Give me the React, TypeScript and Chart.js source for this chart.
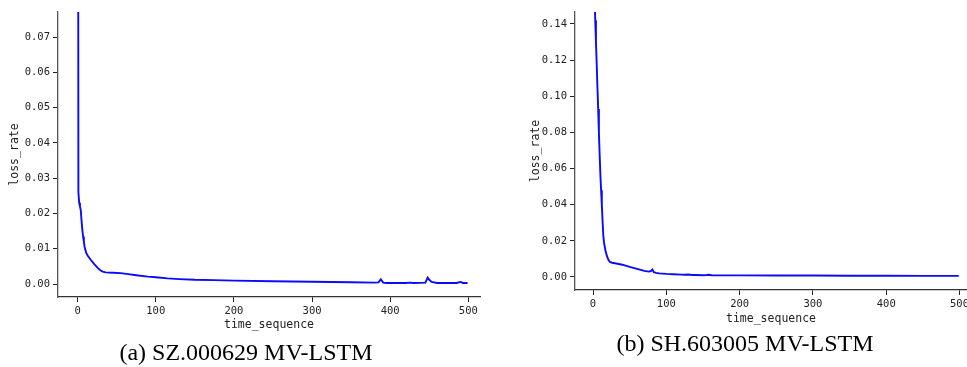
import React, { useEffect, useRef } from 'react';
import { Chart, registerables } from 'chart.js';

Chart.register(...registerables);

// ---- data ----
const stepsA = [0, 1, 2, 3, 4, 5, 6, 7, 8, 9, 11, 13, 17, 21, 26, 29, 32, 36, 45, 55, 65, 75, 90, 100, 115, 130, 150, 175, 200, 250, 300, 350, 380, 385, 388, 391, 395, 420, 425, 430, 445, 448, 450, 453, 460, 485, 490, 493, 499];
const lossA = [0.3, 0.026, 0.023, 0.022, 0.021, 0.018, 0.0155, 0.0135, 0.012, 0.0105, 0.0088, 0.008, 0.0068, 0.0057, 0.0045, 0.0039, 0.0035, 0.0033, 0.0032, 0.0031, 0.0028, 0.0025, 0.0021, 0.0019, 0.0016, 0.0014, 0.0012, 0.0011, 0.00095, 0.0008, 0.00065, 0.0005, 0.0004, 0.00045, 0.0013, 0.0004, 0.0003, 0.0003, 0.0004, 0.0003, 0.0004, 0.0018, 0.0012, 0.0006, 0.0003, 0.0003, 0.0006, 0.0003, 0.0003];

const stepsB = [0, 1, 2, 3, 4, 5, 6, 7, 8, 9, 10, 11, 12, 13, 14, 15, 17, 19, 21, 23, 26, 30, 40, 50, 60, 70, 76, 79, 81, 83, 86, 90, 100, 110, 120, 125, 130, 135, 140, 150, 155, 158, 162, 175, 200, 250, 300, 350, 400, 450, 499];
const lossB = [0.25, 0.2, 0.16, 0.142, 0.13, 0.118, 0.105, 0.093, 0.08, 0.068, 0.057, 0.048, 0.04, 0.031, 0.023, 0.019, 0.0145, 0.0115, 0.0095, 0.0083, 0.0079, 0.0076, 0.0068, 0.0056, 0.0045, 0.0034, 0.003, 0.0033, 0.0041, 0.0027, 0.0023, 0.002, 0.0017, 0.0015, 0.0013, 0.0012, 0.0014, 0.0011, 0.0011, 0.001, 0.0011, 0.0012, 0.001, 0.0009, 0.0009, 0.0008, 0.0008, 0.0007, 0.0007, 0.0006, 0.0006];

const xTicks = [0, 100, 200, 300, 400, 500];
const yTicksA = [0, 0.01, 0.02, 0.03, 0.04, 0.05, 0.06, 0.07];
const yTicksB = [0, 0.02, 0.04, 0.06, 0.08, 0.1, 0.12, 0.14];

const xLabel = 'time_sequence';
const yLabel = 'loss_rate';
const captionA = '(a) SZ.000629 MV-LSTM';
const captionB = '(b) SH.603005 MV-LSTM';

type Props = {
  steps: number[];
  loss: number[];
  yTicks: number[];
  xMin: number;
  xMax: number;
  yMin: number;
  yMax: number;
  width: number;
  height: number;
  axisW: number;
  axisH: number;
  padTop: number;
  padRight: number;
  yTitlePad: number;
  xTitlePad: number;
  left: number;
};

const mono = 'DejaVu Sans Mono';

function LossChart(p: Props) {
  const ref = useRef<HTMLCanvasElement | null>(null);
  useEffect(() => {
    if (!ref.current) return;
    const chart = new Chart(ref.current, {
      type: 'line',
      data: {
        datasets: [
          {
            data: p.steps.map((s, i) => ({ x: s, y: p.loss[i] })),
            borderColor: '#0a0aff',
            borderWidth: 1.9,
            pointRadius: 0,
            tension: 0,
            fill: false,
          },
        ],
      },
      options: {
        animation: false,
        responsive: false,
        devicePixelRatio: 1,
        layout: { padding: { top: p.padTop, right: p.padRight, left: 0, bottom: 0 } },
        plugins: { legend: { display: false }, tooltip: { enabled: false } },
        scales: {
          x: {
            type: 'linear',
            min: p.xMin,
            max: p.xMax,
            afterBuildTicks: (s: any) => {
              s.ticks = xTicks.map((v) => ({ value: v }));
            },
            afterFit: (s: any) => {
              s.height = p.axisH;
              s.paddingLeft = 0;
              s.paddingRight = 0;
            },
            grid: { drawOnChartArea: false, drawTicks: true, tickLength: 5, color: '#222', lineWidth: 1 },
            border: { display: true, color: '#333', width: 1.3 },
            ticks: {
              font: { family: mono, size: 10.5 },
              color: '#222',
              padding: 3,
              maxRotation: 0,
              autoSkip: false,
              callback: (v: any) => String(v),
            },
            title: {
              display: true,
              text: xLabel,
              font: { family: mono, size: 11.5 },
              color: '#222',
              padding: { top: 0, bottom: p.xTitlePad },
            },
          },
          y: {
            type: 'linear',
            min: p.yMin,
            max: p.yMax,
            afterBuildTicks: (s: any) => {
              s.ticks = p.yTicks.map((v) => ({ value: v }));
            },
            afterFit: (s: any) => {
              s.width = p.axisW;
              s.paddingTop = 0;
              s.paddingBottom = 0;
            },
            grid: { drawOnChartArea: false, drawTicks: true, tickLength: 5, color: '#222', lineWidth: 1 },
            border: { display: true, color: '#555', width: 1.3 },
            ticks: {
              font: { family: mono, size: 10.5 },
              color: '#222',
              padding: 3,
              autoSkip: false,
              callback: (v: any) => Number(v).toFixed(2),
            },
            title: {
              display: true,
              text: yLabel,
              font: { family: mono, size: 11.5 },
              color: '#222',
              padding: { top: p.yTitlePad, bottom: 0 },
            },
          },
        },
      },
    } as any);
    return () => chart.destroy();
  }, []);
  return (
    <canvas
      ref={ref}
      width={p.width}
      height={p.height}
      style={{ position: 'absolute', left: p.left, top: 0, width: p.width, height: p.height }}
    />
  );
}

function Caption({ text, cx, cy }: { text: string; cx: number; cy: number }) {
  return (
    <div
      style={{
        position: 'absolute',
        left: cx - 200,
        top: cy - 14,
        width: 400,
        height: 28,
        lineHeight: '28px',
        textAlign: 'center',
        fontFamily: '"Liberation Serif", "Times New Roman", serif',
        fontSize: 24,
        color: '#000',
        whiteSpace: 'nowrap',
      }}
    >
      {text}
    </div>
  );
}

export default function App() {
  return (
    <div style={{ position: 'fixed', left: 0, top: 0, width: 967, height: 367, background: '#fff', overflow: 'hidden' }}>
      <LossChart
        steps={stepsA}
        loss={lossA}
        yTicks={yTicksA}
        xMin={-25.1}
        xMax={514.9}
        yMin={-0.00368}
        yMax={0.0771}
        width={490}
        height={340}
        axisW={58}
        axisH={43}
        padTop={12}
        padRight={10}
        yTitlePad={8}
        xTitlePad={8}
        left={0}
      />
      <LossChart
        steps={stepsB}
        loss={lossB}
        yTicks={yTicksB}
        xMin={-24.6}
        xMax={510.2}
        yMin={-0.0072}
        yMax={0.1466}
        width={467}
        height={340}
        axisW={75}
        axisH={50}
        padTop={12}
        padRight={0}
        yTitlePad={29.5}
        xTitlePad={14}
        left={500}
      />
      <Caption text={captionA} cx={246} cy={352} />
      <Caption text={captionB} cx={745} cy={342.5} />
    </div>
  );
}
